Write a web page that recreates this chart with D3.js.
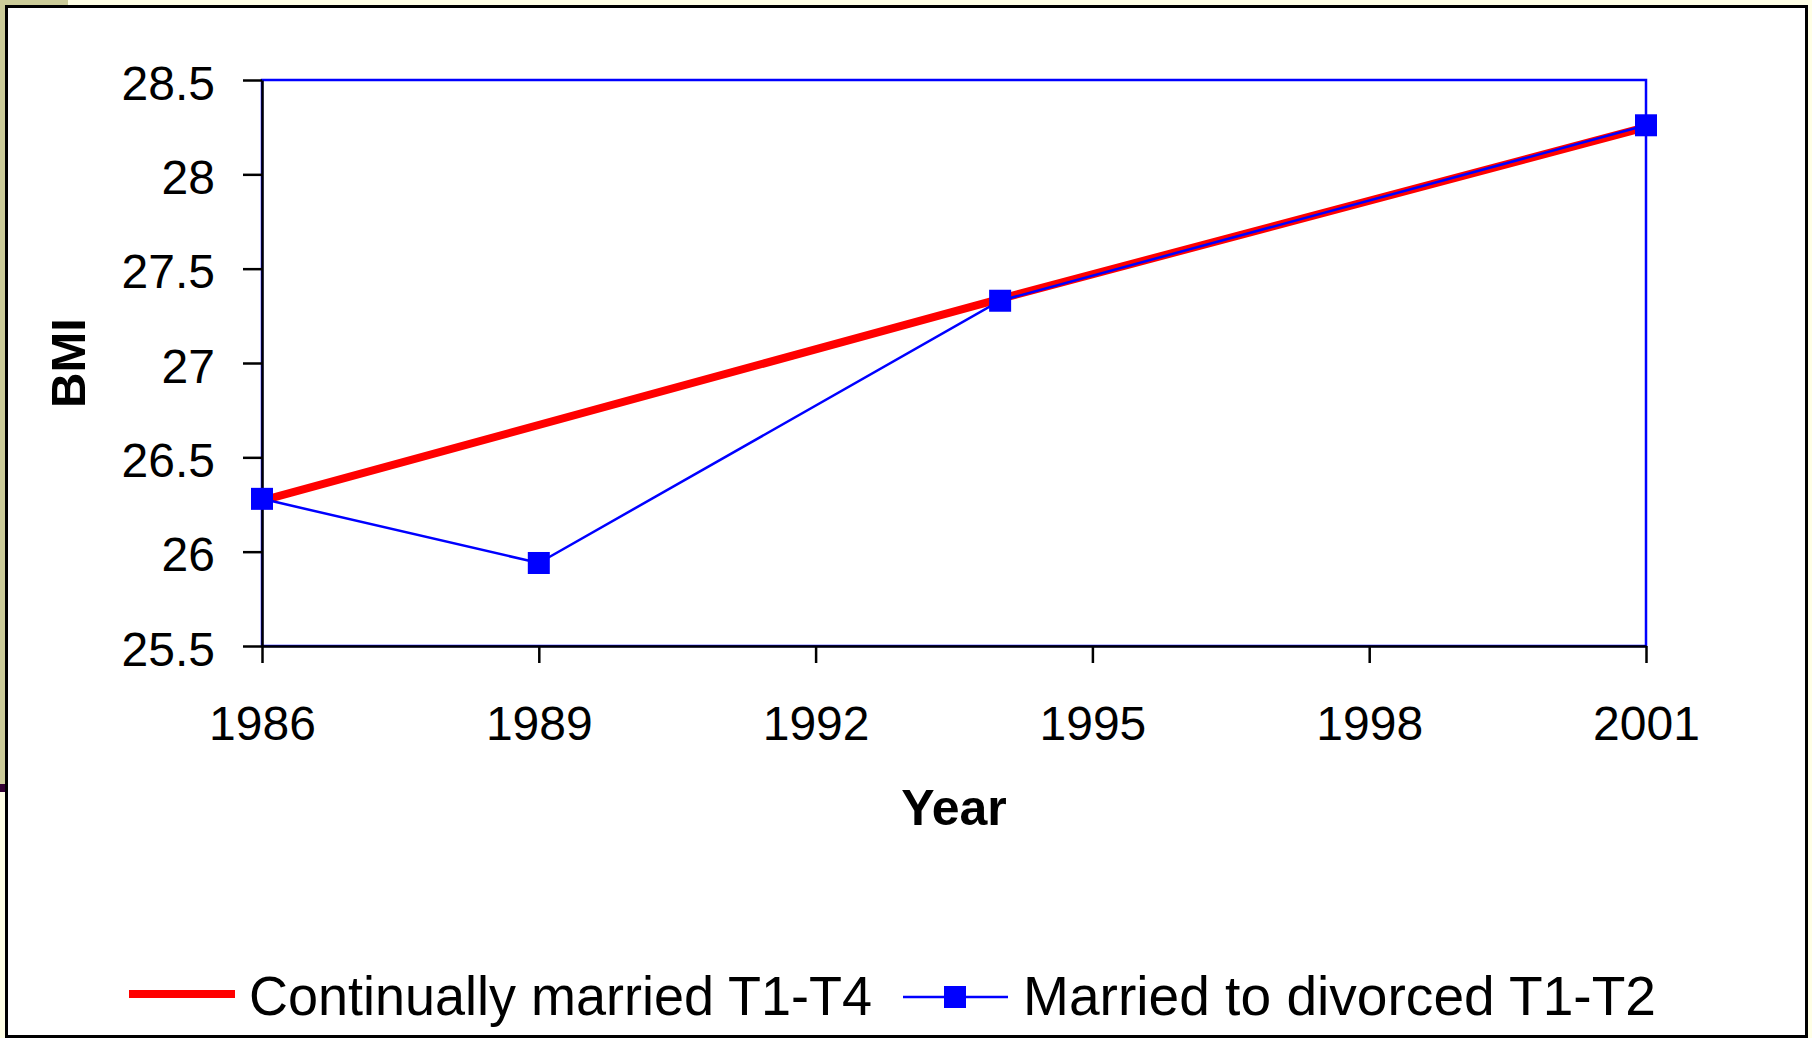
<!DOCTYPE html>
<html>
<head>
<meta charset="utf-8">
<style>
    body { margin: 0; background: #ffffe6; }
    svg { display: block; }
    text { font-family: "Liberation Sans", Arial, sans-serif; fill: #000; }
</style>
</head>
<body>
<svg id="chart" width="1812" height="1038"></svg>

<script src="https://d3js.org/d3.v7.min.js"></script>
<script>
    // chart data
    let years = [1986, 1989, 1994, 2001]
    let marriedYears = [1986, 1994, 2001]
    let continuallyMarried = [26.27, 27.34, 28.25]
    let marriedToDivorced = [26.28, 25.94, 27.33, 28.26]
    let xTicks = [1986, 1989, 1992, 1995, 1998, 2001]
    let yTicks = [25.5, 26, 26.5, 27, 27.5, 28, 28.5]
    let seriesNames = ['Continually married T1-T4', 'Married to divorced T1-T2']

    let svg = d3.select('#chart')

    // slide background bits around the frame
    svg.append('rect').attr('x', 0).attr('y', 0).attr('width', 1812).attr('height', 1038).attr('fill', '#ffffe6')
    svg.append('rect').attr('x', 0).attr('y', 0).attr('width', 68).attr('height', 6).attr('fill', '#cccc99')
    svg.append('rect').attr('x', 0).attr('y', 0).attr('width', 6).attr('height', 784).attr('fill', '#cccc99')
    svg.append('rect').attr('x', 0).attr('y', 784).attr('width', 6).attr('height', 8).attr('fill', '#330033')

    // white chart frame
    svg.append('rect')
        .attr('x', 6.5).attr('y', 6.5)
        .attr('width', 1800).attr('height', 1030)
        .attr('fill', '#fff')
        .attr('stroke', '#000')
        .attr('stroke-width', 3)

    let x = d3.scaleLinear().domain([1986, 2001]).range([262, 1646])
    let y = d3.scaleLinear().domain([25.5, 28.5]).range([646, 80])

    // plot area border (blue)
    svg.append('rect')
        .attr('x', x(1986)).attr('y', y(28.5))
        .attr('width', x(2001) - x(1986)).attr('height', y(25.5) - y(28.5))
        .attr('fill', 'none')
        .attr('stroke', '#0000ff')
        .attr('stroke-width', 2.5)

    let yAxis = svg.append('g')
        .attr('transform', 'translate(' + x(1986) + ',0)')
        .call(d3.axisLeft(y).tickValues(yTicks).tickFormat(d3.format('')).tickSize(19).tickSizeOuter(0).tickPadding(28))
    yAxis.selectAll('text').attr('dy', '0.4em').style('font-size', '48px')

    let xAxis = svg.append('g')
        .attr('transform', 'translate(0,' + y(25.5) + ')')
        .call(d3.axisBottom(x).tickValues(xTicks).tickFormat(d3.format('d')).tickSize(17).tickSizeOuter(0).tickPadding(43))
    xAxis.selectAll('text').style('font-size', '48px')

    svg.selectAll('.domain, .tick line').attr('stroke', '#000').attr('stroke-width', 2.5)

    // axis titles
    svg.append('text')
        .attr('x', (x(1986) + x(2001)) / 2).attr('y', 825)
        .attr('text-anchor', 'middle')
        .style('font-size', '50px').style('font-weight', 'bold')
        .text('Year')
    svg.append('text')
        .attr('transform', 'translate(85,' + (y(25.5) + y(28.5)) / 2 + ') rotate(-90)')
        .attr('text-anchor', 'middle')
        .style('font-size', '49px').style('font-weight', 'bold')
        .text('BMI')

    let line = d3.line().x(d => x(d[0])).y(d => y(d[1]))

    // red series
    svg.append('path')
        .datum(d3.zip(marriedYears, continuallyMarried))
        .attr('d', line)
        .attr('fill', 'none')
        .attr('stroke', '#ff0000')
        .attr('stroke-width', 8)

    // blue series with square markers
    let blueData = d3.zip(years, marriedToDivorced)
    svg.append('path')
        .datum(blueData)
        .attr('d', line)
        .attr('fill', 'none')
        .attr('stroke', '#0000ff')
        .attr('stroke-width', 2.5)
    svg.selectAll('.marker')
        .data(blueData)
        .join('rect')
        .attr('class', 'marker')
        .attr('x', d => x(d[0]) - 11)
        .attr('y', d => y(d[1]) - 11)
        .attr('width', 22).attr('height', 22)
        .attr('fill', '#0000ff')

    // legend
    svg.append('line')
        .attr('x1', 129).attr('x2', 235).attr('y1', 994).attr('y2', 994)
        .attr('stroke', '#ff0000').attr('stroke-width', 8)
    svg.append('text')
        .attr('x', 249).attr('y', 1015)
        .attr('textLength', 623).attr('lengthAdjust', 'spacingAndGlyphs')
        .style('font-size', '55px')
        .text(seriesNames[0])

    svg.append('line')
        .attr('x1', 903).attr('x2', 1008).attr('y1', 997).attr('y2', 997)
        .attr('stroke', '#0000ff').attr('stroke-width', 2.5)
    svg.append('rect')
        .attr('x', 944).attr('y', 986).attr('width', 22).attr('height', 22)
        .attr('fill', '#0000ff')
    svg.append('text')
        .attr('x', 1023).attr('y', 1015)
        .attr('textLength', 633).attr('lengthAdjust', 'spacingAndGlyphs')
        .style('font-size', '55px')
        .text(seriesNames[1])
</script>
</body>
</html>
